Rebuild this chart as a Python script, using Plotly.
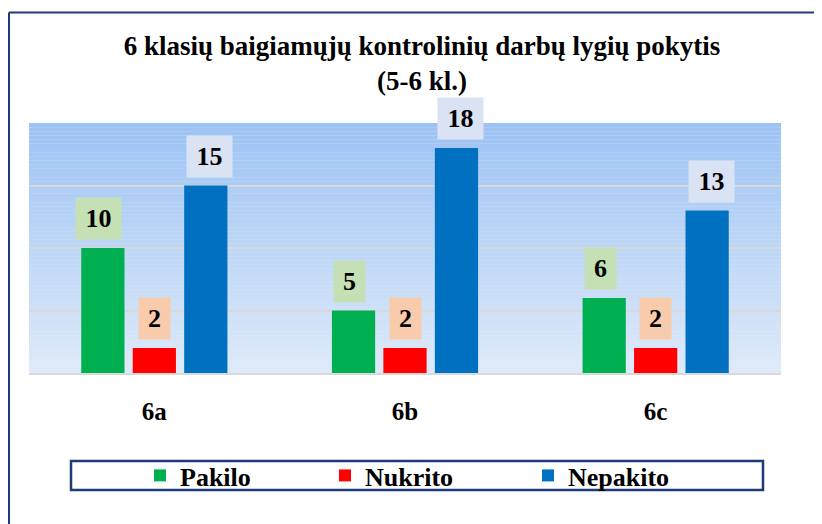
import plotly.graph_objects as go

categories = ["6a", "6b", "6c"]
series_names = ["Pakilo", "Nukrito", "Nepakito"]
pakilo = [10, 5, 6]
nukrito = [2, 2, 2]
nepakito = [15, 18, 13]
title_text = "6 klasių baigiamųjų kontrolinių darbų lygių pokytis<br>(5-6 kl.)"

values = [pakilo, nukrito, nepakito]
bar_colors = ["#00B050", "#FF0000", "#0070C0"]
label_bg = ["#C5E0B4", "#F8CBAD", "#DAE3F3"]
FONT = "Liberation Serif"

OFF = 8  # page body margin
W, H = 822 - OFF, 524 - OFF
# target plot area in page pixels: x 29..781, y 123..373
L, R, T, B = 29 - OFF, 822 - 781, 123 - OFF, 524 - 373
pw, ph = W - L - R, H - T - B

def px_x(px):
    return (px - OFF - L) / pw

def px_y(py):
    return (H - B - (py - OFF)) / ph

legend_ids = ["legend", "legend2", "legend3"]
legend_text_x = [182, 367, 570]

fig = go.Figure()
for name, vals, col, lid in zip(series_names, values, bar_colors, legend_ids):
    fig.add_trace(go.Bar(
        x=categories, y=vals, name="<b>%s</b>" % name,
        marker=dict(color=col, line=dict(width=0)),
        hoverinfo="skip", legend=lid,
    ))

# gradient background of plot area
shapes = []
n = 60
top_c = (157, 195, 244)
bot_c = (222, 234, 249)
for i in range(n):
    t = i / (n - 1)
    c = tuple(round(top_c[k] + (bot_c[k] - top_c[k]) * t) for k in range(3))
    shapes.append(dict(type="rect", xref="paper", yref="paper",
                       x0=0, x1=1, y0=1 - (i + 1) / n, y1=1 - i / n,
                       fillcolor="rgb(%d,%d,%d)" % c, line=dict(width=0),
                       layer="below"))
# outer border (left and top)
shapes.append(dict(type="line", xref="paper", yref="paper",
                   x0=px_x(9), x1=px_x(9), y0=px_y(12.5), y1=px_y(540),
                   line=dict(color="#1F3A78", width=2)))
shapes.append(dict(type="line", xref="paper", yref="paper",
                   x0=px_x(9), x1=px_x(840), y0=px_y(12.5), y1=px_y(12.5),
                   line=dict(color="#1F3A78", width=2)))
# legend box
shapes.append(dict(type="rect", xref="paper", yref="paper",
                   x0=px_x(71), x1=px_x(763), y0=px_y(490), y1=px_y(461),
                   line=dict(color="#1F3A78", width=2.5), fillcolor="rgba(0,0,0,0)"))

annotations = []
offsets = [-0.222, 0.0, 0.222]
for si, vals in enumerate(values):
    for ci, v in enumerate(vals):
        s = str(v)
        annotations.append(dict(
            x=ci + offsets[si], y=v, xref="x", yref="y",
            text="<b>%s</b>" % s, showarrow=False,
            yanchor="bottom", yshift=8,
            bgcolor=label_bg[si], borderpad=0,
            width=14 * len(s) + 17, height=41,
            font=dict(family=FONT, size=26, color="black"),
        ))

legend_common = dict(orientation="h", yanchor="middle", y=px_y(475.5), xanchor="left",
                     font=dict(family=FONT, size=26, color="black"),
                     bgcolor="rgba(0,0,0,0)", borderwidth=0,
                     itemclick=False, itemdoubleclick=False)

fig.update_layout(
    width=W, height=H,
    margin=dict(l=L, r=R, t=T, b=B),
    paper_bgcolor="white",
    plot_bgcolor="#DDE9F8",
    barmode="group",
    bargap=0.384,
    bargroupgap=0.16,
    title=dict(text="<b>%s</b>" % title_text, x=(422 - OFF) / W, xanchor="center",
               y=1 - (55 - OFF) / H, yanchor="top", yref="container",
               font=dict(family=FONT, size=27, color="black")),
    xaxis=dict(showgrid=False, showline=True, linecolor="#D9D9D9", linewidth=2,
               ticks="", tickfont=dict(family=FONT, size=25, color="black"),
               tickvals=categories, ticktext=["<b>%s</b>" % c for c in categories],
               ticklabelstandoff=15, fixedrange=True),
    yaxis=dict(range=[0, 20], dtick=5, showgrid=True, gridcolor="#D9D9D9", gridwidth=2,
               showticklabels=False, zeroline=False, showline=False, fixedrange=True),
    showlegend=True,
    legend=dict(legend_common, x=px_x(legend_text_x[0] - 42)),
    legend2=dict(legend_common, x=px_x(legend_text_x[1] - 42)),
    legend3=dict(legend_common, x=px_x(legend_text_x[2] - 42)),
    shapes=shapes,
    annotations=annotations,
)

fig.write_html("out.html")
